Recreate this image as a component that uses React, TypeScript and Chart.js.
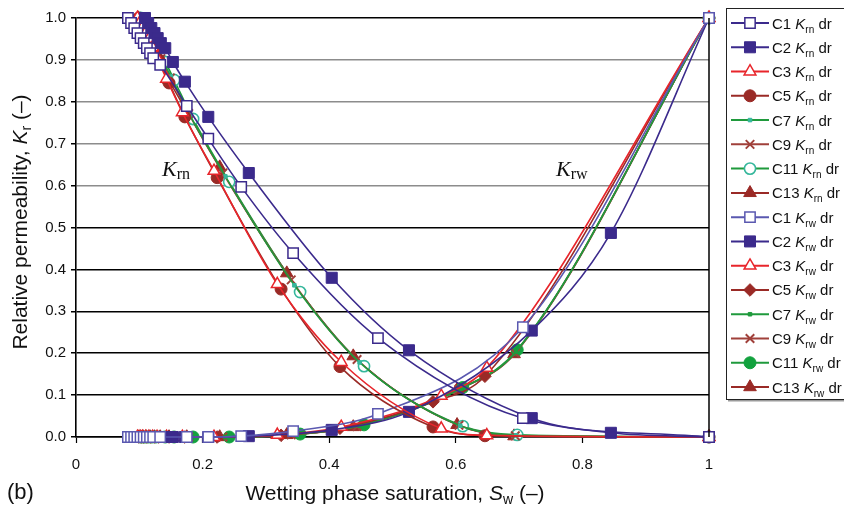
import React, { useEffect, useRef } from 'react';
import { Chart, registerables } from 'chart.js';
Chart.register(...registerables);

// ---------- data ----------
const xTickValues = [0, 0.2, 0.4, 0.6, 0.8, 1];
const yTickValues = [0, 0.1, 0.2, 0.3, 0.4, 0.5, 0.6, 0.7, 0.8, 0.9, 1.0];

const sw1 = [0.082, 0.087, 0.092, 0.097, 0.102, 0.107, 0.112, 0.117, 0.122, 0.133, 0.175, 0.209, 0.261, 0.343, 0.477, 0.706, 1.0];
const krn1 = [1.0, 0.988, 0.976, 0.964, 0.952, 0.94, 0.928, 0.916, 0.904, 0.888, 0.79, 0.712, 0.597, 0.439, 0.236, 0.045, 0.0];
const krw1 = [0, 0, 0, 0, 0, 0, 0, 0, 0, 0, 0, 0, 0.002, 0.014, 0.055, 0.262, 1.0];

const sw2 = [0.109, 0.114, 0.119, 0.124, 0.129, 0.134, 0.141, 0.153, 0.172, 0.209, 0.273, 0.404, 0.526, 0.72, 0.845, 1.0];
const krn2 = [1.0, 0.988, 0.976, 0.964, 0.952, 0.94, 0.928, 0.895, 0.848, 0.764, 0.63, 0.38, 0.207, 0.045, 0.01, 0.0];
const krw2 = [0, 0, 0, 0, 0, 0, 0, 0, 0, 0, 0.002, 0.017, 0.06, 0.254, 0.487, 1.0];

const sw3 = [0.097, 0.101, 0.105, 0.11, 0.115, 0.121, 0.128, 0.143, 0.168, 0.218, 0.318, 0.419, 0.577, 0.649, 1.0];
const krn3 = [1.0, 0.99, 0.978, 0.965, 0.95, 0.93, 0.905, 0.855, 0.775, 0.635, 0.365, 0.179, 0.02, 0.004, 0.0];
const krw3 = [0, 0, 0, 0, 0, 0, 0, 0, 0, 0, 0.005, 0.024, 0.098, 0.165, 1.0];

const sw5 = [0.099, 0.103, 0.107, 0.112, 0.118, 0.124, 0.131, 0.147, 0.172, 0.223, 0.324, 0.417, 0.564, 0.646, 1.0];
const krn5 = [1.0, 0.99, 0.978, 0.963, 0.945, 0.925, 0.9, 0.845, 0.764, 0.619, 0.353, 0.168, 0.024, 0.003, 0.0];
const krw5 = [0, 0, 0, 0, 0, 0, 0, 0, 0, 0, 0.004, 0.021, 0.084, 0.145, 1.0];

const sw7 = [0.101, 0.105, 0.109, 0.114, 0.12, 0.127, 0.135, 0.15, 0.18, 0.236, 0.345, 0.448, 0.607, 0.695, 1.0];
const krn7 = [1.0, 0.99, 0.978, 0.965, 0.948, 0.928, 0.905, 0.86, 0.768, 0.622, 0.362, 0.178, 0.027, 0.004, 0.0];
const krw7 = [0, 0, 0, 0, 0, 0, 0, 0, 0, 0, 0.006, 0.027, 0.115, 0.203, 1.0];

const sw9 = [0.1, 0.104, 0.108, 0.113, 0.119, 0.126, 0.134, 0.149, 0.178, 0.232, 0.34, 0.444, 0.605, 0.694, 1.0];
const krn9 = [1.0, 0.99, 0.978, 0.964, 0.947, 0.927, 0.903, 0.857, 0.772, 0.63, 0.375, 0.185, 0.028, 0.003, 0.0];
const krw9 = [0, 0, 0, 0, 0, 0, 0, 0, 0, 0, 0.005, 0.025, 0.114, 0.2, 1.0];

const sw11 = [0.102, 0.106, 0.11, 0.115, 0.12, 0.126, 0.141, 0.155, 0.185, 0.242, 0.354, 0.455, 0.611, 0.697, 1.0];
const krn11 = [1.0, 0.99, 0.978, 0.963, 0.945, 0.925, 0.895, 0.852, 0.759, 0.609, 0.346, 0.169, 0.026, 0.005, 0.0];
const krw11 = [0, 0, 0, 0, 0, 0, 0, 0, 0, 0, 0.007, 0.029, 0.118, 0.208, 1.0];

const sw13 = [0.098, 0.102, 0.106, 0.111, 0.117, 0.124, 0.133, 0.147, 0.175, 0.227, 0.333, 0.438, 0.602, 0.692, 1.0];
const krn13 = [1.0, 0.99, 0.978, 0.964, 0.947, 0.925, 0.9, 0.852, 0.778, 0.644, 0.391, 0.193, 0.029, 0.002, 0.0];
const krw13 = [0, 0, 0, 0, 0, 0, 0, 0, 0, 0, 0.005, 0.024, 0.113, 0.198, 1.0];

// ---------- styles ----------
const INDIGO = '#3b2a8c';
const INDIGO_LIGHT = '#5a58b0';
const RED = '#e8252b';
const BROWN = '#9a2a26';
const BROWN2 = '#a0403a';
const GREEN = '#1f9a3c';
const TEAL = '#35b79c';
const GREEN_FILL = '#12a23e';

type Mk = { style: string; r: number; fill: string; stroke: string; bw: number };

const mk = {
  sqOpen: (c: string): Mk => ({ style: 'rect', r: 7.3, fill: '#ffffff', stroke: c, bw: 1.5 }),
  sqFill: (c: string): Mk => ({ style: 'rect', r: 7.8, fill: c, stroke: c, bw: 1 }),
  triOpen: (c: string): Mk => ({ style: 'triangle', r: 6.8, fill: '#ffffff', stroke: c, bw: 1.5 }),
  triFill: (c: string): Mk => ({ style: 'triangle', r: 7.3, fill: c, stroke: c, bw: 1 }),
  cirFill: (c: string): Mk => ({ style: 'circle', r: 6, fill: c, stroke: c, bw: 1 }),
  cirOpen: (c: string): Mk => ({ style: 'circle', r: 5.6, fill: '#ffffff', stroke: c, bw: 1.6 }),
  dash: (c: string): Mk => ({ style: 'rect', r: 2.5, fill: c, stroke: c, bw: 1 }),
  cross: (c: string): Mk => ({ style: 'crossRot', r: 6, fill: c, stroke: c, bw: 2 }),
  diamond: (c: string): Mk => ({ style: 'rectRot', r: 6.3, fill: c, stroke: c, bw: 1 }),
};

const series = [
  { name: 'C1', sub: 'rn', x: sw1, y: krn1, line: INDIGO, m: mk.sqOpen(INDIGO) },
  { name: 'C2', sub: 'rn', x: sw2, y: krn2, line: INDIGO, m: mk.sqFill(INDIGO) },
  { name: 'C3', sub: 'rn', x: sw3, y: krn3, line: RED, m: mk.triOpen(RED) },
  { name: 'C5', sub: 'rn', x: sw5, y: krn5, line: BROWN, m: mk.cirFill(BROWN) },
  { name: 'C7', sub: 'rn', x: sw7, y: krn7, line: GREEN, m: mk.dash(TEAL) },
  { name: 'C9', sub: 'rn', x: sw9, y: krn9, line: BROWN2, m: mk.cross(BROWN2) },
  { name: 'C11', sub: 'rn', x: sw11, y: krn11, line: GREEN, m: mk.cirOpen(TEAL) },
  { name: 'C13', sub: 'rn', x: sw13, y: krn13, line: BROWN, m: mk.triFill(BROWN) },
  { name: 'C1', sub: 'rw', x: sw1, y: krw1, line: INDIGO_LIGHT, m: mk.sqOpen(INDIGO_LIGHT) },
  { name: 'C2', sub: 'rw', x: sw2, y: krw2, line: INDIGO, m: mk.sqFill(INDIGO) },
  { name: 'C3', sub: 'rw', x: sw3, y: krw3, line: RED, m: mk.triOpen(RED) },
  { name: 'C5', sub: 'rw', x: sw5, y: krw5, line: BROWN, m: mk.diamond(BROWN) },
  { name: 'C7', sub: 'rw', x: sw7, y: krw7, line: GREEN, m: mk.dash(GREEN) },
  { name: 'C9', sub: 'rw', x: sw9, y: krw9, line: BROWN2, m: mk.cross(BROWN2) },
  { name: 'C11', sub: 'rw', x: sw11, y: krw11, line: GREEN, m: mk.cirFill(GREEN_FILL) },
  { name: 'C13', sub: 'rw', x: sw13, y: krw13, line: BROWN, m: mk.triFill(BROWN) },
];

const SANS = '"Liberation Sans", Arial, sans-serif';
const SERIF = '"Liberation Serif", "DejaVu Serif", serif';

type Part = { t: string; font: string; dy?: number };

function richWidth(ctx: CanvasRenderingContext2D, parts: Part[]) {
  let w = 0;
  for (const p of parts) { ctx.font = p.font; w += ctx.measureText(p.t).width; }
  return w;
}
function drawRich(ctx: CanvasRenderingContext2D, parts: Part[], x: number, y: number, align: 'left' | 'center' = 'left') {
  let cx = align === 'center' ? x - richWidth(ctx, parts) / 2 : x;
  ctx.textAlign = 'left';
  ctx.textBaseline = 'alphabetic';
  for (const p of parts) {
    ctx.font = p.font;
    ctx.fillText(p.t, cx, y + (p.dy || 0));
    cx += ctx.measureText(p.t).width;
  }
}

function drawMarker(ctx: CanvasRenderingContext2D, m: Mk, x: number, y: number) {
  const r = m.r;
  ctx.save();
  ctx.fillStyle = m.fill;
  ctx.strokeStyle = m.stroke;
  ctx.lineWidth = m.bw;
  ctx.beginPath();
  if (m.style === 'rect') {
    const s = Math.SQRT1_2 * r;
    ctx.rect(x - s, y - s, 2 * s, 2 * s);
    ctx.fill(); ctx.stroke();
  } else if (m.style === 'triangle') {
    ctx.moveTo(x, y - r);
    ctx.lineTo(x + 0.866 * r, y + 0.5 * r);
    ctx.lineTo(x - 0.866 * r, y + 0.5 * r);
    ctx.closePath();
    ctx.fill(); ctx.stroke();
  } else if (m.style === 'circle') {
    ctx.arc(x, y, r, 0, Math.PI * 2);
    ctx.fill(); ctx.stroke();
  } else if (m.style === 'rectRot') {
    ctx.moveTo(x, y - r); ctx.lineTo(x + r, y); ctx.lineTo(x, y + r); ctx.lineTo(x - r, y);
    ctx.closePath();
    ctx.fill(); ctx.stroke();
  } else if (m.style === 'crossRot') {
    const d = r * Math.SQRT1_2;
    ctx.moveTo(x - d, y - d); ctx.lineTo(x + d, y + d);
    ctx.moveTo(x + d, y - d); ctx.lineTo(x - d, y + d);
    ctx.stroke();
  }
  ctx.restore();
}

const overlayPlugin = {
  id: 'overlay',
  afterDraw(chart: any) {
    const ctx: CanvasRenderingContext2D = chart.ctx;
    const { right, top, bottom } = chart.chartArea;
    ctx.save();
    // right frame line
    ctx.strokeStyle = '#000';
    ctx.lineWidth = 1.5;
    ctx.beginPath();
    ctx.moveTo(right, top);
    ctx.lineTo(right, bottom);
    ctx.stroke();

    ctx.fillStyle = '#111';
    // curve annotations
    drawRich(ctx, [
      { t: 'K', font: `italic 22px ${SERIF}` },
      { t: 'rn', font: `16px ${SERIF}`, dy: 3 },
    ], 162, 176);
    drawRich(ctx, [
      { t: 'K', font: `italic 22px ${SERIF}` },
      { t: 'rw', font: `16px ${SERIF}`, dy: 3 },
    ], 556, 176);

    // x title
    drawRich(ctx, [
      { t: 'Wetting phase saturation, ', font: `21px ${SANS}` },
      { t: 'S', font: `italic 21px ${SANS}` },
      { t: 'w', font: `14px ${SANS}`, dy: 4 },
      { t: ' (\u2013)', font: `21px ${SANS}` },
    ], 395, 500, 'center');
    // (b)
    drawRich(ctx, [{ t: '(b)', font: `22px ${SANS}` }], 7, 499);

    // y title
    ctx.save();
    ctx.translate(27, 222);
    ctx.rotate(-Math.PI / 2);
    drawRich(ctx, [
      { t: 'Relative permeability, ', font: `21px ${SANS}` },
      { t: 'K', font: `italic 21px ${SANS}` },
      { t: 'r', font: `14px ${SANS}`, dy: 4 },
      { t: ' (\u2013)', font: `21px ${SANS}` },
    ], 0, 0, 'center');
    ctx.restore();

    // legend
    const lx = 726, ly = 8, lb = 399;
    ctx.fillStyle = '#fff';
    ctx.fillRect(lx, ly, 844 - lx + 5, lb - ly);
    ctx.strokeStyle = '#9a9a9a';
    ctx.lineWidth = 2;
    ctx.beginPath();
    ctx.moveTo(lx + 2, lb + 1.5);
    ctx.lineTo(850, lb + 1.5);
    ctx.stroke();
    ctx.strokeStyle = '#222';
    ctx.lineWidth = 1;
    ctx.strokeRect(lx + 0.5, ly + 0.5, 844 - lx + 5, lb - ly);

    series.forEach((s, i) => {
      const y = 23 + i * 24.27;
      ctx.strokeStyle = s.line;
      ctx.lineWidth = 2;
      ctx.beginPath();
      ctx.moveTo(731, y);
      ctx.lineTo(769, y);
      ctx.stroke();
      drawMarker(ctx, s.m, 750, y);
      ctx.fillStyle = '#111';
      drawRich(ctx, [
        { t: s.name + ' ', font: `15px ${SANS}` },
        { t: 'K', font: `italic 15px ${SANS}` },
        { t: s.sub, font: `10px ${SANS}`, dy: 4 },
        { t: ' dr', font: `15px ${SANS}` },
      ], 772, y + 5.5);
    });
    ctx.restore();
  },
};

export default function App() {
  const ref = useRef<HTMLCanvasElement | null>(null);
  useEffect(() => {
    if (!ref.current) return;
    const datasets = series.map((s) => ({
      label: `${s.name} K${s.sub} dr`,
      data: s.x.map((xv, i) => ({ x: xv, y: s.y[i] })),
      borderColor: s.line,
      borderWidth: 1.6,
      backgroundColor: s.m.fill,
      pointStyle: s.m.style as any,
      pointRadius: s.m.r,
      pointBackgroundColor: s.m.fill,
      pointBorderColor: s.m.stroke,
      pointBorderWidth: s.m.bw,
      cubicInterpolationMode: 'monotone' as const,
      fill: false,
      clip: false as any,
      showLine: true,
    }));
    const chart = new Chart(ref.current, {
      type: 'scatter',
      data: { datasets },
      plugins: [overlayPlugin],
      options: {
        animation: false,
        responsive: false,
        layout: { padding: { left: 0, right: 135, top: 18, bottom: 0 } },
        plugins: { legend: { display: false }, tooltip: { enabled: false } },
        scales: {
          x: {
            type: 'linear',
            min: 0,
            max: 1,
            afterFit: (sc: any) => { sc.height = 70; },
            afterBuildTicks: (sc: any) => { sc.ticks = xTickValues.map((v) => ({ value: v })); },
            ticks: {
              color: '#111',
              font: { family: SANS, size: 15 },
              padding: 13,
              maxRotation: 0,
              callback: (v: any) => (v === 0 ? '0' : v === 1 ? '1' : Number(v).toFixed(1)),
            },
            grid: { drawOnChartArea: false, drawTicks: true, tickLength: 6, tickColor: '#000', tickWidth: 1.2 },
            border: { color: '#000', width: 1.6 },
          },
          y: {
            type: 'linear',
            min: 0,
            max: 1,
            afterFit: (sc: any) => { sc.width = 76; },
            afterBuildTicks: (sc: any) => { sc.ticks = yTickValues.map((v) => ({ value: v })); },
            ticks: {
              color: '#111',
              font: { family: SANS, size: 15 },
              padding: 5,
              callback: (v: any) => Number(v).toFixed(1),
            },
            grid: {
              drawTicks: true,
              tickLength: 5,
              tickColor: '#000',
              lineWidth: 1.5,
              color: (c: any) => {
                const v = c.tick ? c.tick.value : 0;
                return v > 0.55 && v < 0.95 ? '#8c8c8c' : '#000';
              },
            },
            border: { color: '#000', width: 1.6 },
          },
        },
      },
    });
    return () => chart.destroy();
  }, []);
  return (
    <div style={{ position: 'fixed', left: 0, top: 0, width: 844, height: 507, background: '#fff' }}>
      <canvas ref={ref} width={844} height={507} style={{ display: 'block' }} />
    </div>
  );
}
